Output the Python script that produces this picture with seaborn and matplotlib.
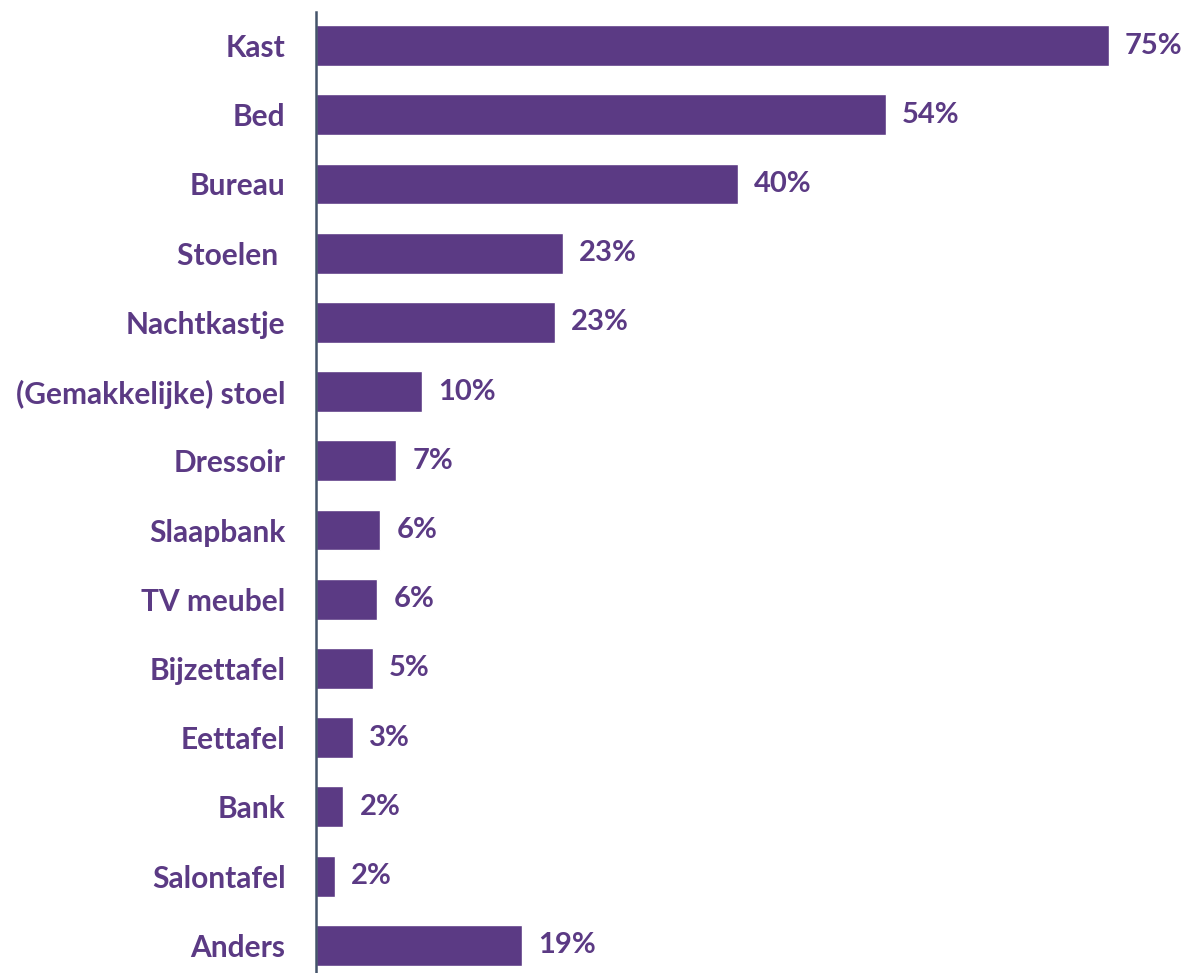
import matplotlib
matplotlib.use("Agg")
import matplotlib.pyplot as plt
import seaborn as sns
import pandas as pd

# --- data ---
categories = ["Kast", "Bed", "Bureau", "Stoelen ", "Nachtkastje", "(Gemakkelijke) stoel",
              "Dressoir", "Slaapbank", "TV meubel", "Bijzettafel", "Eettafel", "Bank",
              "Salontafel", "Anders"]
values = [75.0, 53.9, 39.9, 23.4, 22.6, 10.0, 7.6, 6.1, 5.8, 5.4, 3.5, 2.6, 1.8, 19.5]
value_labels = ["75%", "54%", "40%", "23%", "23%", "10%", "7%", "6%", "6%", "5%",
                "3%", "2%", "2%", "19%"]

purple = "#5B3A84"
axis_color = "#44546A"

df = pd.DataFrame({"item": categories, "pct": values})

sns.set_style("white")
plt.rcParams["font.family"] = ["Lato", "DejaVu Sans"]

fig = plt.figure(figsize=(11.85, 9.73), dpi=100)
ax = fig.add_axes([316 / 1185, 0.0, 1 - 316 / 1185, 1 - 12 / 973])

sns.barplot(data=df, y="item", x="pct", color=purple, saturation=1, width=0.59,
            orient="h", ax=ax)

# value labels right of each bar
ax.bar_label(ax.containers[0], labels=value_labels, padding=11.5,
             fontsize=21, fontweight="bold", color=purple)

ax.set_xlim(0, 869 / 10.57)
ax.set_ylim(13.40, -0.484)

for side in ["top", "right", "bottom"]:
    ax.spines[side].set_visible(False)
ax.spines["left"].set_color(axis_color)
ax.spines["left"].set_linewidth(1.8)

ax.set_xticks([])
ax.set_xlabel("")
ax.set_ylabel("")
ax.tick_params(axis="y", length=0, pad=22)
for lbl in ax.get_yticklabels():
    lbl.set_fontsize(21.5)
    lbl.set_fontweight("bold")
    lbl.set_color(purple)

fig.savefig("out.png", dpi=100)
